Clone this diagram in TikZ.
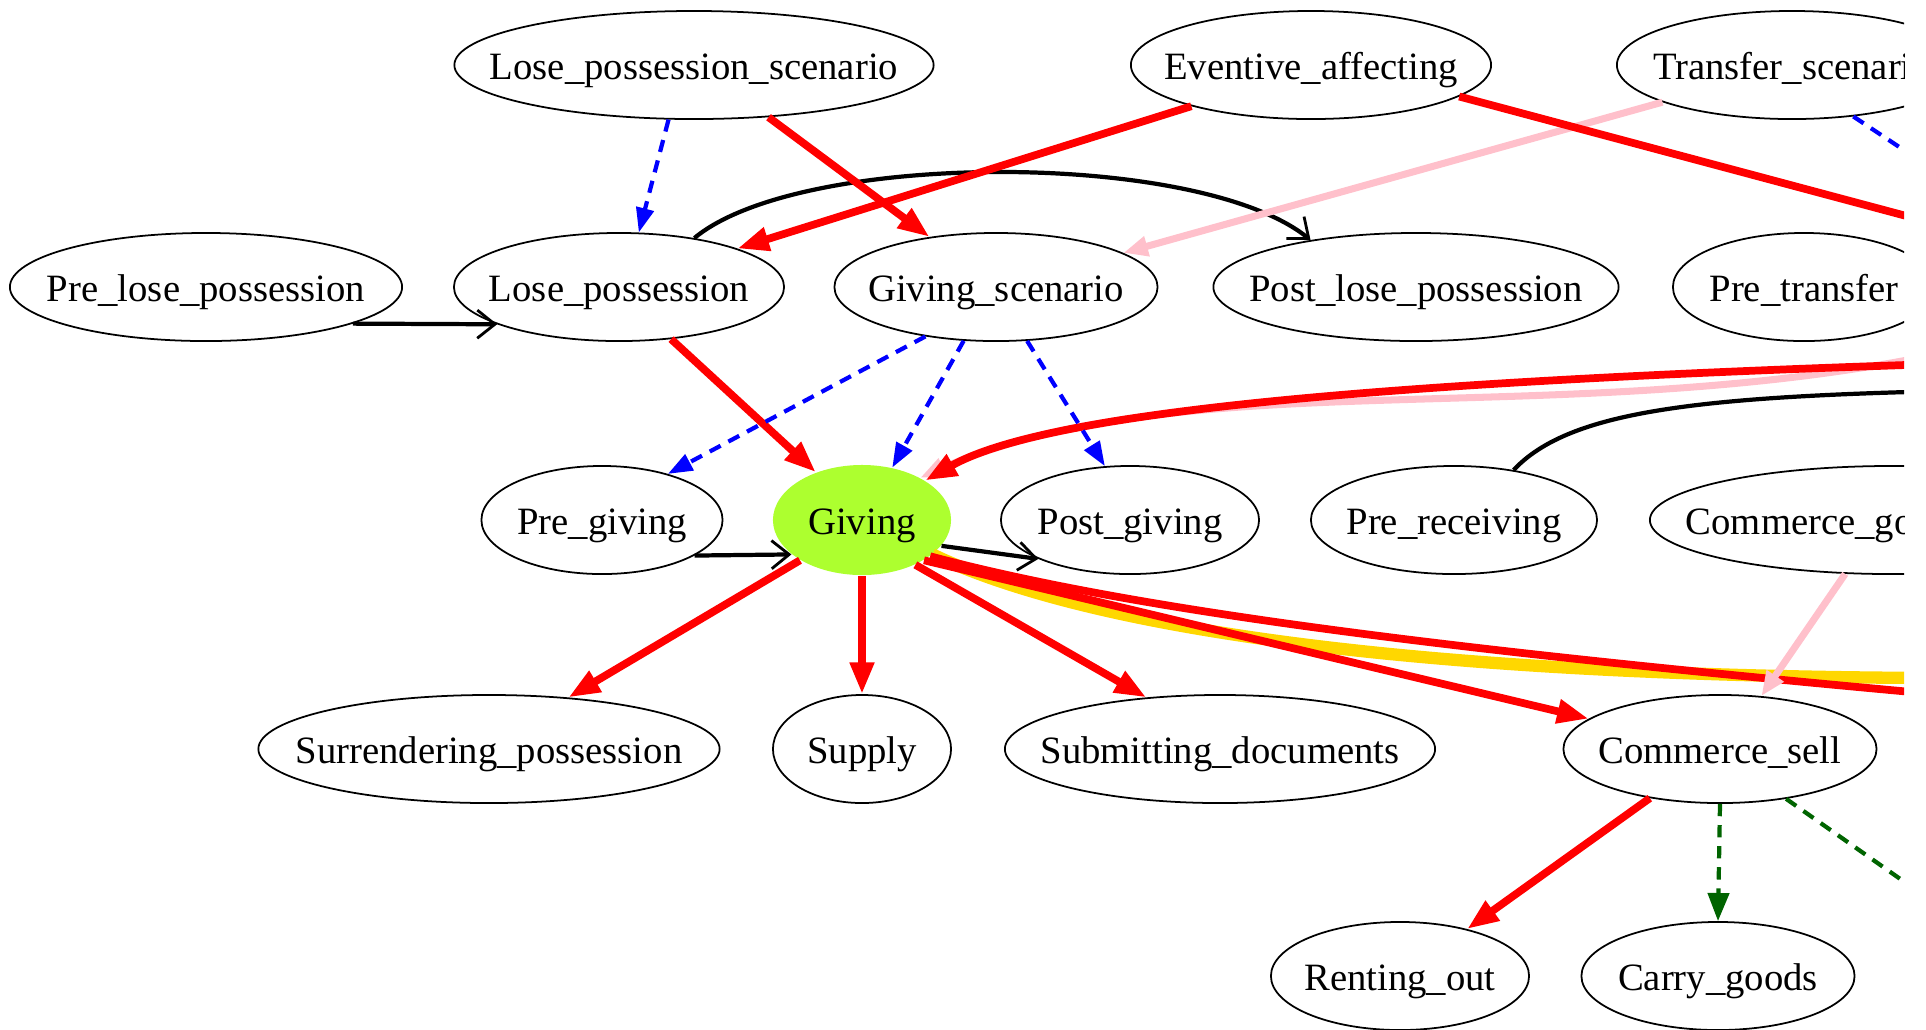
\documentclass[tikz,border=0pt]{standalone}
\usepackage{fontspec}
\setmainfont{Liberation Serif}
\usetikzlibrary{arrows.meta,shapes.geometric}
\definecolor{fnpink}{RGB}{255,192,203}
\definecolor{fngold}{RGB}{255,215,0}
\definecolor{fngreen}{RGB}{0,100,0}
\definecolor{fnlime}{RGB}{173,255,47}
\newcommand{\fname}[1]{\makebox[0pt]{#1}}
\tikzstyle{whiteframe}=[ellipse,draw=black,line width=0.5pt,
                        inner sep=0pt,minimum height=1.08cm,
                        text height=10.5pt,text depth=2pt,
                        font=\fontsize{11}{13}\selectfont]
\tikzstyle{limeframe}=[ellipse,fill=fnlime,
                       inner sep=0pt,minimum height=1.1cm,
                       text height=10.5pt,text depth=2pt,
                       font=\fontsize{11}{13}\selectfont]
\tikzstyle{precede}=[draw=black,line width=1.2pt,
                     -{Straight Barb[length=5pt,width=8pt,line width=0.8pt]}]
\tikzstyle{inherit}=[draw=red,line width=2.2pt,
                     -{Triangle[length=9pt,width=6.5pt]}]
\tikzstyle{subframe}=[draw=blue,line width=1.2pt,dash pattern=on 3.5pt off 2.5pt,
                      -{Triangle[length=7pt,width=5pt]}]
\tikzstyle{perspect}=[draw=fnpink,line width=2pt,
                      -{Triangle[length=7pt,width=5.5pt]}]
\tikzstyle{using}=[draw=fngreen,line width=1.2pt,dash pattern=on 3.5pt off 2.5pt,
                   -{Triangle[length=8pt,width=6pt]}]
\tikzstyle{causes}=[draw=fngold,line width=3.5pt]

\begin{document}
\begin{tikzpicture}[x=0.01cm,y=-0.01cm]
    \newcommand{\rowa}{65}
    \newcommand{\rowb}{287}
    \newcommand{\rowc}{520}
    \newcommand{\rowd}{749}
    \newcommand{\rowe}{976}
    \useasboundingbox (0,0) rectangle (1926,1029);
    \clip (0,0) rectangle (1904,1029);
    % frames
    \node (lps)    at ( 694,\rowa) [whiteframe,minimum width=4.79cm]{\fname{Lose\_possession\_scenario}};
    \node (eva)    at (1311,\rowa) [whiteframe,minimum width=3.60cm]{\fname{Eventive\_affecting}};
    \node (trs)    at (1792,\rowa) [whiteframe,minimum width=3.50cm]{\fname{Transfer\_scenario}};
    \node (plp)    at ( 206,\rowb) [whiteframe,minimum width=3.92cm]{\fname{Pre\_lose\_possession}};
    \node (lp)     at ( 619,\rowb) [whiteframe,minimum width=3.30cm]{\fname{Lose\_possession}};
    \node (gs)     at ( 996,\rowb) [whiteframe,minimum width=3.23cm]{\fname{Giving\_scenario}};
    \node (postlp) at (1416,\rowb) [whiteframe,minimum width=4.05cm]{\fname{Post\_lose\_possession}};
    \node (ptr)    at (1804,\rowb) [whiteframe,minimum width=2.62cm]{\fname{Pre\_transfer}};
    \node (pg)     at ( 602,\rowc) [whiteframe,minimum width=2.41cm]{\fname{Pre\_giving}};
    \node (giv)    at ( 862,\rowc) [limeframe, minimum width=1.78cm]{\fname{Giving}};
    \node (postg)  at (1130,\rowc) [whiteframe,minimum width=2.58cm]{\fname{Post\_giving}};
    \node (prr)    at (1454,\rowc) [whiteframe,minimum width=2.86cm]{\fname{Pre\_receiving}};
    \node (cgt)    at (1892,\rowc) [whiteframe,minimum width=4.84cm]{\fname{Commerce\_goods-transfer}};
    \node (sp)     at ( 489,\rowd) [whiteframe,minimum width=4.61cm]{\fname{Surrendering\_possession}};
    \node (sup)    at ( 862,\rowd) [whiteframe,minimum width=1.78cm]{\fname{Supply}};
    \node (sd)     at (1220,\rowd) [whiteframe,minimum width=4.30cm]{\fname{Submitting\_documents}};
    \node (cs)     at (1720,\rowd) [whiteframe,minimum width=3.13cm]{\fname{Commerce\_sell}};
    \node (ro)     at (1400,\rowe) [whiteframe,minimum width=2.58cm]{\fname{Renting\_out}};
    \node (cg)     at (1718,\rowe) [whiteframe,minimum width=2.73cm]{\fname{Carry\_goods}};
    % frames off the right edge
    \coordinate (offeva)  at (2000,241);
    \coordinate (offtrs)  at (2000,214);
    \coordinate (offred)  at (2000,362);
    \coordinate (offpink) at (2000,340);
    \coordinate (offprr)  at (2000,390);
    \coordinate (offgiv)  at (2000,700);
    \coordinate (offgold) at (2000,678);
    \coordinate (offcs)   at (2000,949);
    % precedes
    \draw [precede] (plp.-14) -- (lp.-163);
    \draw [precede] (lp.33) .. controls (800,150) and (1200,150) .. (postlp.156);
    \draw [precede] (pg.-21) -- (giv.-154);
    \draw [precede] (giv.-18) -- (postg.-157);
    \draw [precede] (prr.40) .. controls (1570,410) and (1700,395) .. (offprr);
    % yellow one
    \draw [causes] (giv.-26) .. controls (1080,625) and (1400,680) .. (offgold);
    % perspective and inheritance
    \draw [perspect] (offpink) .. controls (1600,440) and (1200,355) .. (giv.36);
    \draw [perspect] (trs.-164) -- (gs.15);
    \draw [inherit] (lps.-35) -- (gs.143);
    \draw [inherit] (eva.-161) -- (lp.18);
    \draw [inherit] (eva.-12) -- (offeva);
    \draw [inherit] (lp.-45) -- (giv.134);
    \draw [inherit] (offred) .. controls (1400,380) and (1050,410) .. (giv.32);
    \draw [inherit] (giv.-147) -- (sp.33);
    \draw [inherit] (giv.south) -- (sup.north);
    \draw [inherit] (giv.-40) -- (sd.145);
    \draw [inherit] (giv.-33) -- (cs.167);
    \draw [inherit] (giv.-28) .. controls (1150,615) and (1500,655) .. (offgiv);
    \draw [inherit] (cs.-145) -- (ro.35);
    \draw [perspect] (cgt.-131) -- (cs.52);
    % subframes
    \draw [subframe] (lps.-115) -- (lp.70);
    \draw [subframe] (trs.-40) -- (offtrs);
    \draw [subframe] (gs.-145) -- (pg.35);
    \draw [subframe] (gs.-121) -- (giv.60);
    \draw [subframe] (gs.-60) -- (postg.115);
    % using
    \draw [using] (cs.south) -- (cg.north);
    \draw [using] (cs.-37) -- (offcs);
\end{tikzpicture}
\end{document}
